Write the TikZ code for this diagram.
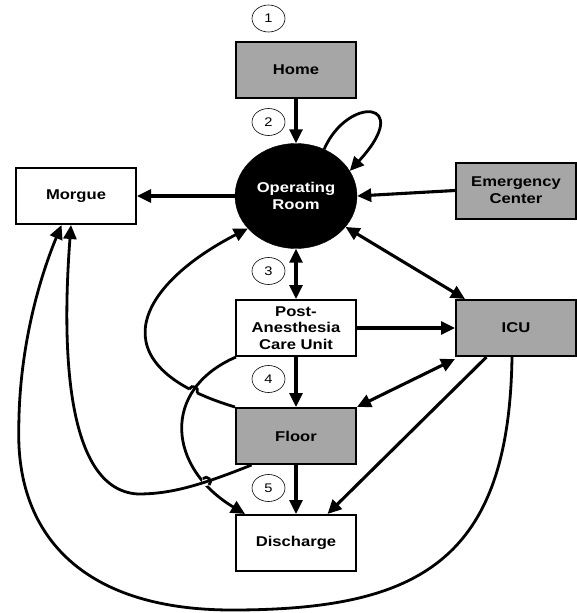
\documentclass[tikz,border=0pt]{standalone}
\usepackage{fontspec}
\setmainfont{Liberation Sans}[FakeStretch=1.17]
\usetikzlibrary{arrows.meta,shapes.geometric,intersections}
\begin{document}
\begin{tikzpicture}[x=1pt,y=-1pt,
  box/.style={draw, line width=2pt, minimum width=120pt, minimum height=56pt, inner sep=0pt, align=center, font=\bfseries\fontsize{14.2}{16.7}\selectfont},
  gbox/.style={box, fill=black!35},
  numc/.style={draw, ellipse, line width=0.6pt, minimum width=33pt, minimum height=27pt, inner sep=0pt, font=\fontsize{12.5}{12.5}\selectfont},
  arr/.style={line width=3.1pt, -{Triangle[length=14pt,width=13pt]}},
  darr/.style={line width=3.1pt, {Triangle[length=14pt,width=13pt]}-{Triangle[length=14pt,width=13pt]}},
  carr/.style={line width=2.8pt, -{Triangle[length=14pt,width=13pt]}},
  hop/.style={line width=2.8pt}]
\useasboundingbox (0,0) rectangle (577,613);

% nodes
\node[gbox] (home) at (296,70) {Home};
\node[draw, ellipse, fill=black, minimum width=122pt, minimum height=105pt, inner sep=0pt, align=center, text=white, font=\bfseries\fontsize{14.2}{16.7}\selectfont] (or) at (296,196) {Operating\\Room};
\node[box] (morgue) at (76,196) {Morgue};
\node[gbox] (ec) at (516,190.5) {Emergency\\Center};
\node[box] (pacu) at (296,328) {Post-\\Anesthesia\\Care Unit};
\node[gbox] (icu) at (516,328) {ICU};
\node[gbox] (floor) at (296,436) {Floor};
\node[box] (dis) at (296,543) {Discharge};

\node[numc] (n1) at (268.5,18.5) {1};
\node[numc] (n2) at (268.5,122) {2};
\node[numc] (n3) at (268.5,271) {3};
\node[numc] (n4) at (268.5,379) {4};
\node[numc] (n5) at (268.5,488) {5};

% straight connectors
\draw[arr] (home.south) -- (or.north);
\draw[arr] (or.west) -- (morgue.east);
\draw[arr] (ec.west) -- (or.east);
\draw[darr] (or.south) -- (pacu.north);
\draw[darr] (or.-32) -- ([xshift=10pt]icu.north west);
\draw[arr] (pacu.east) -- (icu.west);
\draw[arr] (pacu.south) -- (floor.north);
\draw[darr] ([yshift=-2pt]icu.south west) -- (floor.north east);
\draw[arr] (floor.south) -- (dis.north);
\draw[arr] ([xshift=-29.5pt]icu.south) -- ([xshift=31.5pt]dis.north);

% self loop
\draw[carr] (or.59) .. controls (348,95) and (415,100) .. (or.25);

% curved connectors
\coordinate (fm) at ([xshift=16.5pt]floor.south west);
\coordinate (mi) at ([xshift=-5pt]morgue.south);
\coordinate (mo) at ([xshift=-14.5pt]morgue.south);
\coordinate (ib) at ([xshift=-4pt]icu.south);
\coordinate (pb) at ([xshift=1pt]pacu.south west);
\coordinate (dt) at ([xshift=10pt]dis.north west);

\path[name path=fo] (floor.north west) .. controls (94,365) and (138,285) .. (or.214);
\path[name path=pd] (pb) .. controls (160,390) and (168,468) .. (dt);
\path[name path=fmp] (fm) .. controls (199,486) and (170,494) .. (138,494)
  .. controls (61,490) and (63,330) .. (mi);
\path[name intersections={of=fo and pd, by={xa}}];
\path[name intersections={of=pd and fmp, by={xb}}];

% Floor -> OR with a hop over PACU -> Discharge
\begin{scope}[even odd rule]
  \clip (-20,-20) rectangle (620,640) (xa) circle[radius=4.5];
  \draw[carr] (floor.north west) .. controls (94,365) and (138,285) .. (or.214);
\end{scope}
\draw[hop] ([shift={(4.0,1.9)}]xa) .. controls ([shift={(6.4,-3.3)}]xa) and ([shift={(-1.5,-7.1)}]xa) .. ([shift={(-4.0,-1.9)}]xa);

% PACU -> Discharge with a hop over Floor -> Morgue
\begin{scope}[even odd rule]
  \clip (-20,-20) rectangle (620,640) (xb) circle[radius=4.5];
  \draw[carr] (pb) .. controls (160,390) and (168,468) .. (dt);
\end{scope}
\draw[hop] ([shift={(-3.1,-3.2)}]xb) .. controls ([shift={(1.1,-7.3)}]xb) and ([shift={(7.3,-0.9)}]xb) .. ([shift={(3.1,3.2)}]xb);

% Floor -> Morgue
\draw[carr] (fm) .. controls (199,486) and (170,494) .. (138,494)
  .. controls (61,490) and (63,330) .. (mi);

% ICU -> Morgue
\draw[carr] (ib) .. controls (509,560) and (420,610) .. (232,610)
  .. controls (77,610) and (16.6,530) .. (18.8,430)
  .. controls (18.8,350) and (38.7,280) .. (mo);
\end{tikzpicture}
\end{document}
